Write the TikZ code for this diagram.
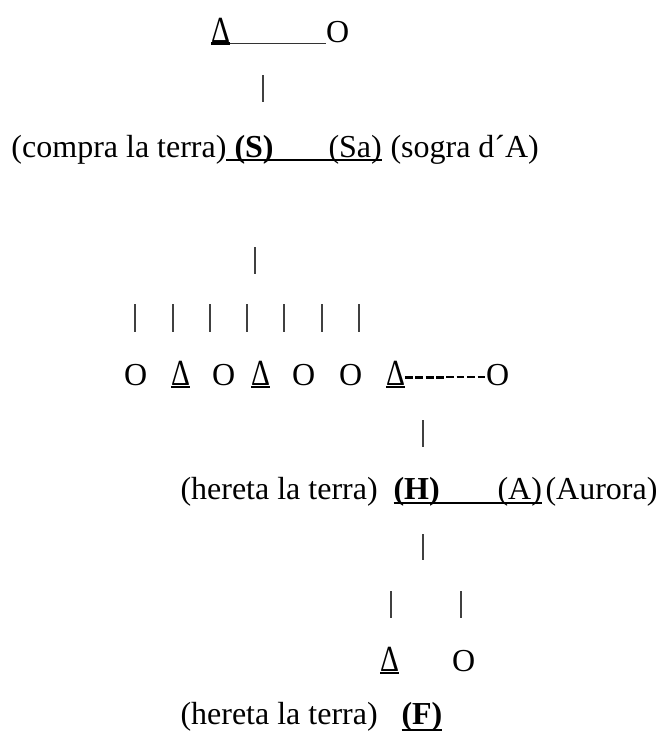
\documentclass[tikz,border=0pt]{standalone}
\usepackage{fontspec}
\setmainfont{Liberation Serif}
\newcommand{\tridelta}{\scalebox{0.92}[1.15]{Δ}}
\begin{document}
\begin{tikzpicture}[x=1pt,y=1pt,
  txt/.style={anchor=base west, inner sep=0pt, outer sep=0pt, font=\fontsize{32}{38}\selectfont},
  btxt/.style={txt, font=\fontsize{32}{38}\selectfont\bfseries},
  bar/.style={draw=black!75, line width=1.3pt},
  uline/.style={draw=black, line width=2.6pt},
  thinline/.style={draw=black!80, line width=1.2pt},
  thickdash/.style={draw=black, line width=3pt, dash pattern=on 8pt off 2.4pt},
  thindash/.style={draw=black, line width=1.8pt, dash pattern=on 7.5pt off 3pt}]
\useasboundingbox (0,0) rectangle (661,-734);
% row 1
\node[txt] (d1) at (211,-42) {\tridelta};
\node[txt] (o1) at (326,-42) {O};
\draw[uline] ([yshift=-1.5pt]d1.base west) -- ([yshift=-1.5pt]d1.base east);
\draw[thinline] ([yshift=-1.5pt]d1.base east) -- ([yshift=-1.5pt]o1.base west);
\coordinate (b1t) at (263,-75); \coordinate (b1b) at (263,-102);
\draw[bar] (b1t) -- (b1b);
% row 2
\node[txt] (t1) at (11.5,-157) {(compra la terra)};
\node[btxt] (S) at (234.5,-157) {(S)};
\node[txt] (Sa) at (328.5,-157) {(Sa)};
\node[txt] (t2) at (390.5,-157) {(sogra d´A)};
\draw[uline] ([yshift=-3pt]t1.base east) -- ([yshift=-3pt]Sa.base east);
\coordinate (b2t) at (255,-247); \coordinate (b2b) at (255,-274);
\draw[bar] (b2t) -- (b2b);
\foreach \i/\x in {1/135,2/173,3/210,4/247,5/284,6/322,7/359}{
  \coordinate (c\i t) at (\x,-304); \coordinate (c\i b) at (\x,-332);
  \draw[bar] (c\i t) -- (c\i b);
}
% row 3
\node[txt] (r1) at (124,-385) {O};
\node[txt] (r2) at (171,-385) {\tridelta};
\node[txt] (r3) at (212,-385) {O};
\node[txt] (r4) at (251,-385) {\tridelta};
\node[txt] (r5) at (292,-385) {O};
\node[txt] (r6) at (339,-385) {O};
\node[txt] (r7) at (386,-385) {\tridelta};
\node[txt] (r8) at (486,-385) {O};
\foreach \n in {r2,r4,r7}{
  \draw[uline] ([yshift=-2pt]\n.base west) -- ([yshift=-2pt]\n.base east);
}
\coordinate (dm) at (446,-377);
\draw[thickdash] ([yshift=8pt]r7.base east) -- (dm);
\draw[thindash] (dm) -- ([yshift=8pt]r8.base west);
\coordinate (b3t) at (423,-420); \coordinate (b3b) at (423,-447);
\draw[bar] (b3t) -- (b3b);
% row 4
\node[txt] (h1) at (180.5,-499) {(hereta la terra)};
\node[btxt] (H) at (393.5,-499) {(H)};
\node[txt] (A) at (497.5,-499) {(A)};
\node[txt] (au) at (545.5,-499) {(Aurora)};
\draw[uline] ([yshift=-4pt]H.base west) -- ([yshift=-4pt]A.base east);
\coordinate (b4t) at (423,-534); \coordinate (b4b) at (423,-560);
\draw[bar] (b4t) -- (b4b);
\coordinate (b5t) at (391,-591); \coordinate (b5b) at (391,-618);
\draw[bar] (b5t) -- (b5b);
\coordinate (b6t) at (461,-591); \coordinate (b6b) at (461,-618);
\draw[bar] (b6t) -- (b6b);
% row 5
\node[txt] (fd) at (380,-671) {\tridelta};
\node[txt] (fo) at (452,-671) {O};
\draw[uline] ([yshift=-2pt]fd.base west) -- ([yshift=-2pt]fd.base east);
% row 6
\node[txt] (h2) at (180.5,-724) {(hereta la terra)};
\node[btxt] (F) at (401.5,-724) {(F)};
\draw[uline] ([yshift=-6pt]F.base west) -- ([yshift=-6pt]F.base east);
\end{tikzpicture}
\end{document}
